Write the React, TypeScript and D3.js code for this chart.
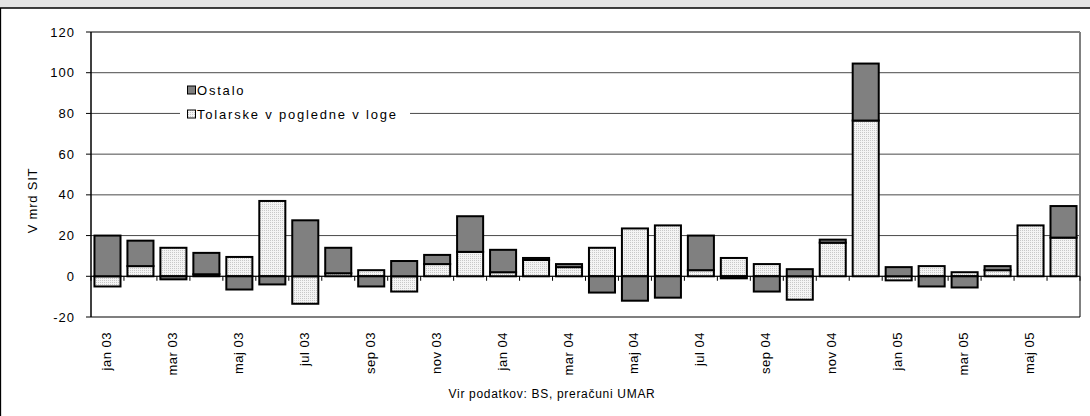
import React from "react";
import * as d3 from "d3";

const months = [
  "jan 03", "feb 03", "mar 03", "apr 03", "maj 03", "jun 03", "jul 03", "avg 03", "sep 03", "okt 03", "nov 03", "dec 03",
  "jan 04", "feb 04", "mar 04", "apr 04", "maj 04", "jun 04", "jul 04", "avg 04", "sep 04", "okt 04", "nov 04", "dec 04",
  "jan 05", "feb 05", "mar 05", "apr 05", "maj 05", "jun 05",
];
const tolarske = [-5, 5, 14, 1, 9.5, 37, -13.5, 1.5, 3, -7.5, 6, 12, 2, 8, 4.5, 14, 23.5, 25, 3, 9, 6, -11.5, 16.5, 76.5, -2, 5, 2, 3, 25, 19];
const ostalo = [20, 12.5, -1.5, 10.5, -6.5, -4, 27.5, 12.5, -5, 7.5, 4.5, 17.5, 11, 1, 1.5, -8, -12, -10.5, 17, -1, -7.5, 3.5, 1.5, 28, 4.5, -5, -5.5, 2, 0, 15.5];
const yTicks = [-20, 0, 20, 40, 60, 80, 100, 120];
const seriesNames = ["Tolarske v pogledne v loge", "Ostalo"];
const yTitle = "V mrd SIT";
const source = "Vir podatkov: BS, preračuni UMAR";

const W = 1090, H = 416;
const L = 91, R = 1080, T = 32, B = 317;
const FONT = "Arial, 'Liberation Sans', sans-serif";

export default function App() {
  const x = d3.scaleBand<string>().domain(months).range([L, R]).paddingInner(0.21).paddingOuter(0.105);
  const step = x.step();
  const y = d3.scaleLinear().domain([-20, 120]).range([B, T]);
  const rows = months.map((m, i) => ({ m, t: tolarske[i], o: ostalo[i] }));
  const stack = d3.stack<any>().keys(["t", "o"]).offset(d3.stackOffsetDiverging);
  const layers = stack(rows);
  const fills = ["url(#dots)", "#808080"];

  return (
    <svg width={W} height={H} style={{ position: "absolute", left: 0, top: 0, background: "#fff" }} fontFamily={FONT}>
      <defs>
        <pattern id="dots" width={2} height={2} patternUnits="userSpaceOnUse">
          <rect width={2} height={2} fill="#f4f4f4" />
          <rect width={1} height={1} fill="#c8c8c8" />
        </pattern>
      </defs>
      {/* title strip and frame */}
      <rect x={0} y={0} width={W} height={8} fill="#e4e4e4" />
      <line x1={0} x2={W} y1={8} y2={8} stroke="#000" strokeWidth={1.3} />
      <line x1={0.5} x2={0.5} y1={8} y2={H} stroke="#000" strokeWidth={1.3} />

      {/* gridlines */}
      {yTicks.filter((v) => v > -20 && v < 120).map((v) => (
        <line key={v} x1={L} x2={R} y1={y(v)} y2={y(v)} stroke="#4a4a4a" strokeWidth={1} />
      ))}
      {/* plot frame */}
      <line x1={L} x2={R} y1={T} y2={T} stroke="#000" strokeWidth={1.2} />
      <line x1={R} x2={R} y1={T} y2={B} stroke="#808080" strokeWidth={2} />
      <line x1={L} x2={R} y1={B} y2={B} stroke="#000" strokeWidth={1.2} />
      <line x1={L} x2={L} y1={T} y2={B} stroke="#000" strokeWidth={1.5} />

      {/* y ticks */}
      {yTicks.map((v) => (
        <g key={v}>
          <line x1={L - 5} x2={L} y1={y(v)} y2={y(v)} stroke="#000" strokeWidth={1} />
          <text x={75} y={y(v)} dy="0.35em" textAnchor="end" fontSize={13} letterSpacing={1} fill="#000">{v}</text>
        </g>
      ))}
      <text transform={`translate(37,${(T + B) / 2 + 26}) rotate(-90)`} textAnchor="middle" fontSize={13} letterSpacing={0.8} fill="#000">{yTitle}</text>

      {/* legend */}
      <rect x={180} y={77} width={230} height={48} fill="#fff" />
      <rect x={187.5} y={86} width={8} height={8} fill="#808080" stroke="#000" strokeWidth={1} />
      <text x={197} y={94.5} fontSize={13} letterSpacing={1.8} fill="#000">{seriesNames[1]}</text>
      <rect x={187.5} y={110} width={8} height={8} fill="url(#dots)" stroke="#000" strokeWidth={1} />
      <text x={197} y={118.5} fontSize={13} letterSpacing={1.8} fill="#000">{seriesNames[0]}</text>

      {/* bars */}
      {layers.map((layer, li) =>
        layer.map((d, i) => {
          const y0 = y(d[0]), y1 = y(d[1]);
          const h = Math.abs(y0 - y1);
          if (h < 0.01) return null;
          return (
            <rect
              key={`${li}-${i}`}
              x={x(months[i])!}
              y={Math.min(y0, y1)}
              width={x.bandwidth()}
              height={h}
              fill={fills[li]}
              stroke="#000"
              strokeWidth={2}
            />
          );
        })
      )}

      {/* x ticks at zero line */}
      {d3.range(months.length + 1).map((k) => (
        <line key={k} x1={L + k * step} x2={L + k * step} y1={y(0)} y2={y(0) + 4.5} stroke="#000" strokeWidth={1} />
      ))}
      <line x1={L} x2={R} y1={y(0)} y2={y(0)} stroke="#000" strokeWidth={1} />

      {/* x labels */}
      {months.map((m, i) =>
        i % 2 === 0 ? (
          <text
            key={m}
            transform={`translate(${x(m)! + x.bandwidth() / 2 + 3.5},332) rotate(-90)`}
            textAnchor="end"
            fontSize={13}
            letterSpacing={0.5}
            fill="#000"
          >
            {m}
          </text>
        ) : null
      )}

      <text x={552} y={398} textAnchor="middle" fontSize={12} letterSpacing={0.7} fill="#000">{source}</text>
    </svg>
  );
}
